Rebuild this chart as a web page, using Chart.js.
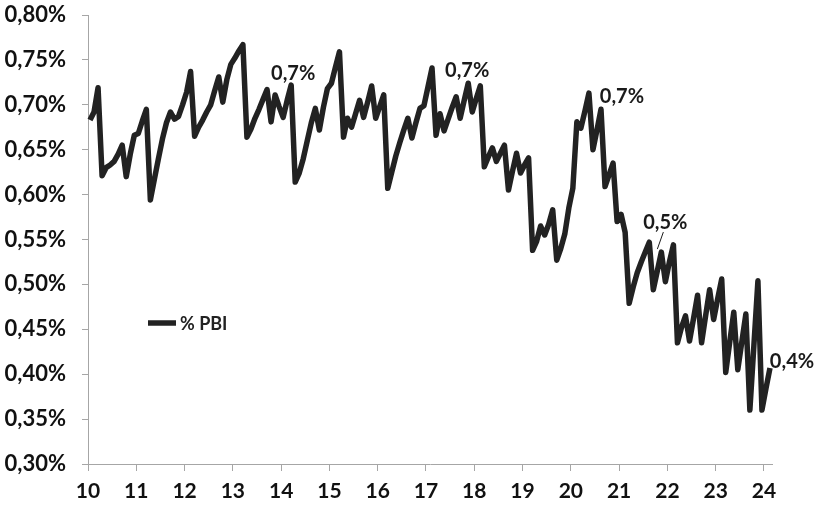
<!DOCTYPE html>
<html>
<head>
<meta charset="utf-8">
<script src="https://cdn.jsdelivr.net/npm/chart.js@4/dist/chart.umd.min.js"></script>
<style>
  html, body { margin: 0; padding: 0; background: #ffffff; }
  #wrap { width: 822px; height: 507px; }
</style>
</head>
<body>
<div id="wrap"><canvas id="pbiChart" width="822" height="507"></canvas></div>
<script>
// years shown on the x axis (tick at each January)
const years = ['10', '11', '12', '13', '14', '15', '16', '17', '18', '19', '20', '21', '22', '23', '24'];
const monthNames = ['ene', 'feb', 'mar', 'abr', 'may', 'jun', 'jul', 'ago', 'sep', 'oct', 'nov', 'dic'];

// % PBI, monthly, ene-10 .. feb-24
const pbi = [
    0.683, 0.692, 0.719, 0.621, 0.630, 0.633, 0.637, 0.645, 0.655, 0.620, 0.645, 0.666,
    0.668, 0.682, 0.695, 0.594, 0.617, 0.640, 0.662, 0.680, 0.692, 0.684, 0.687, 0.700,
    0.714, 0.737, 0.665, 0.675, 0.683, 0.692, 0.700, 0.716, 0.731, 0.703, 0.728, 0.745,
    0.752, 0.760, 0.767, 0.664, 0.673, 0.685, 0.695, 0.706, 0.717, 0.681, 0.711, 0.698,
    0.686, 0.705, 0.722, 0.614, 0.624, 0.640, 0.660, 0.680, 0.696, 0.672, 0.697, 0.718,
    0.724, 0.742, 0.759, 0.664, 0.685, 0.675, 0.690, 0.705, 0.686, 0.703, 0.721, 0.685,
    0.698, 0.711, 0.607, 0.625, 0.643, 0.658, 0.672, 0.685, 0.663, 0.680, 0.696, 0.699,
    0.720, 0.741, 0.666, 0.690, 0.671, 0.684, 0.697, 0.709, 0.685, 0.705, 0.724, 0.692,
    0.707, 0.721, 0.631, 0.642, 0.652, 0.637, 0.646, 0.655, 0.605, 0.626, 0.646, 0.624,
    0.633, 0.641, 0.538, 0.548, 0.565, 0.555, 0.567, 0.583, 0.527, 0.540, 0.556, 0.585,
    0.607, 0.681, 0.674, 0.693, 0.713, 0.650, 0.672, 0.695, 0.609, 0.622, 0.635, 0.570,
    0.578, 0.558, 0.479, 0.497, 0.513, 0.525, 0.536, 0.547, 0.494, 0.515, 0.536, 0.503,
    0.525, 0.544, 0.435, 0.452, 0.465, 0.437, 0.462, 0.488, 0.435, 0.465, 0.494, 0.461,
    0.484, 0.506, 0.402, 0.436, 0.469, 0.405, 0.436, 0.467, 0.360, 0.432, 0.504, 0.360,
    0.384, 0.407
];

// y axis range
const yMin = 0.30;
const yMax = 0.80;
const yStep = 0.05;

// points that carry a value label
const labelPoints = [50, 94, 124, 142, 169];

const seriesName = '% PBI';

const labels = [];
years.forEach(y => monthNames.forEach(m => labels.push(m + '-' + y)));
labels.length = pbi.length;

const fmtPct = (v, d) => v.toFixed(d).replace('.', ',') + '%';
const axisGrey = '#a6a6a6';
const lineColor = '#222222';

const valueLabels = {
    id: 'valueLabels',
    afterDatasetsDraw(chart, args, opts) {
        const meta = chart.getDatasetMeta(0);
        const ctx = chart.ctx;
        ctx.save();
        ctx.font = opts.font;
        ctx.fillStyle = opts.color;
        ctx.textAlign = 'center';
        ctx.textBaseline = 'middle';
        opts.items.forEach(it => {
            const p = meta.data[it.index];
            if (it.leader) {
                ctx.strokeStyle = opts.color;
                ctx.lineWidth = 1;
                ctx.beginPath();
                ctx.moveTo(p.x + it.leader[0], p.y + it.leader[1]);
                ctx.lineTo(p.x + it.leader[2], p.y + it.leader[3]);
                ctx.stroke();
            }
            ctx.fillText(fmtPct(pbi[it.index], 1), p.x + it.dx, p.y + it.dy);
        });
        ctx.restore();
    }
};

const insideLegend = {
    id: 'insideLegend',
    afterDraw(chart, args, opts) {
        const ctx = chart.ctx;
        ctx.save();
        ctx.strokeStyle = lineColor;
        ctx.lineWidth = 5.5;
        ctx.beginPath();
        ctx.moveTo(opts.x, opts.y);
        ctx.lineTo(opts.x + 28, opts.y);
        ctx.stroke();
        ctx.font = opts.font;
        ctx.fillStyle = lineColor;
        ctx.textAlign = 'left';
        ctx.textBaseline = 'middle';
        ctx.fillText(seriesName, opts.x + 32, opts.y + 1);
        ctx.restore();
    }
};

Chart.defaults.font.family = 'Lato, "Open Sans", sans-serif';

const ctx = document.getElementById('pbiChart').getContext('2d');
new Chart(ctx, {
    type: 'line',
    data: {
        labels: labels,
        datasets: [{
            label: seriesName,
            data: pbi,
            borderColor: lineColor,
            borderWidth: 5.5,
            borderJoinStyle: 'round',
            pointRadius: 0,
            tension: 0,
            fill: false
        }]
    },
    options: {
        responsive: false,
        animation: false,
        layout: { padding: { top: 15, right: 50, bottom: 0, left: 0 } },
        plugins: {
            legend: { display: false },
            tooltip: { enabled: false },
            valueLabels: {
                font: 'bold 20px Lato',
                color: '#1a1a1a',
                items: [
                    { index: labelPoints[0], dx: 2, dy: -11 },
                    { index: labelPoints[1], dx: -1, dy: -13 },
                    { index: labelPoints[2], dx: 33, dy: 3 },
                    { index: labelPoints[3], dx: 4, dy: -30, leader: [-4, -3, 2, -20] },
                    { index: labelPoints[4], dx: 22, dy: -6 }
                ]
            },
            insideLegend: { x: 148, y: 323, font: 'bold 18px Lato' }
        },
        scales: {
            x: {
                type: 'category',
                offset: true,
                afterFit: s => { s.height = 43; },
                border: { color: axisGrey, width: 1 },
                grid: {
                    offset: true,
                    drawOnChartArea: false,
                    tickLength: 7,
                    color: c => (c.tick && c.index % 12 === 0) ? axisGrey : 'rgba(0,0,0,0)'
                },
                ticks: {
                    autoSkip: false,
                    maxRotation: 0,
                    minRotation: 0,
                    padding: 8,
                    labelOffset: -2,
                    color: '#111111',
                    font: { size: 21, weight: 'bold' },
                    callback: (v, i) => i % 12 === 0 ? years[i / 12] : ''
                }
            },
            y: {
                min: yMin,
                max: yMax,
                afterFit: s => {
                    s.width = 88;
                    s.paddingTop = 12;
                    s.paddingBottom = 12;
                },
                border: { color: axisGrey, width: 1 },
                grid: {
                    drawOnChartArea: false,
                    tickLength: 6,
                    color: axisGrey
                },
                ticks: {
                    stepSize: yStep,
                    padding: 16,
                    color: '#111111',
                    font: { size: 22, weight: 'bold' },
                    callback: v => fmtPct(v, 2)
                }
            }
        }
    },
    plugins: [valueLabels, insideLegend]
});
</script>
</body>
</html>
